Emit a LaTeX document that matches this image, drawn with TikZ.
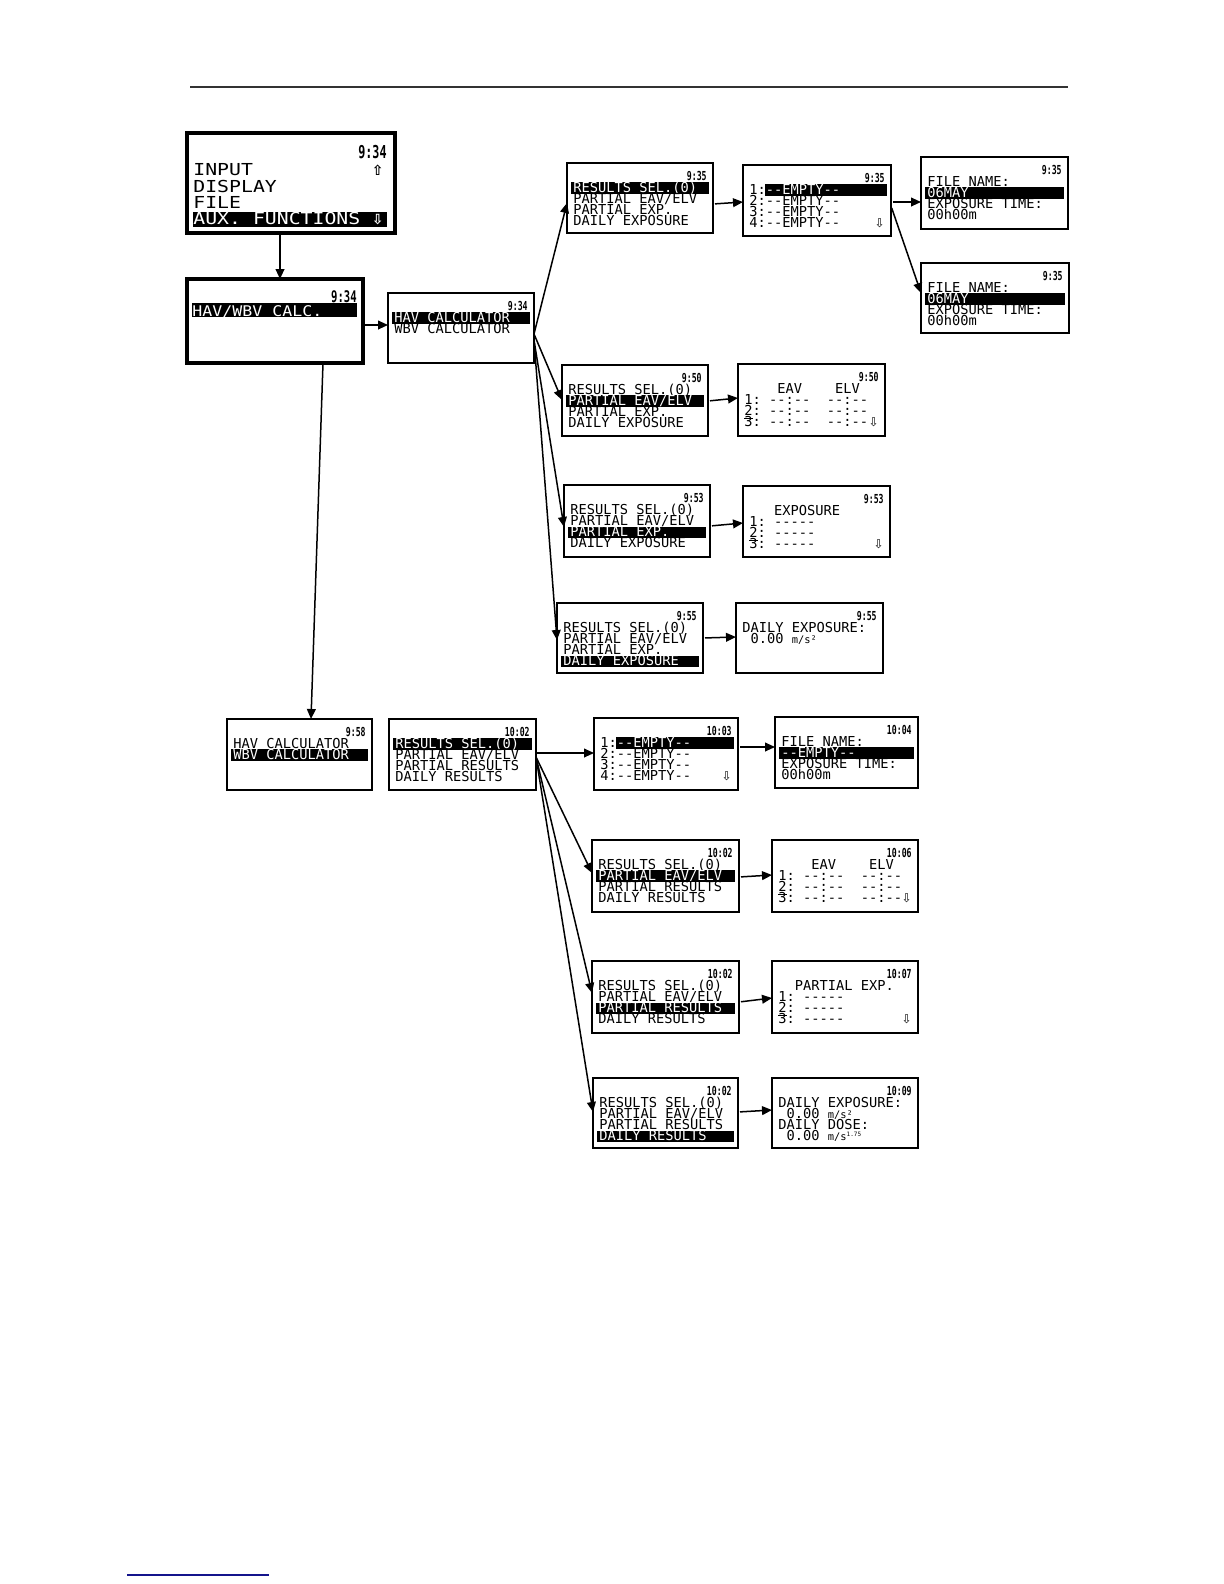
\documentclass[tikz,border=0pt]{standalone}
\usepackage{fontspec}
\usetikzlibrary{arrows.meta}
\newfontfamily\lcd[Ligatures=TeXOff]{DejaVu Sans Mono}
\newfontfamily\lcdw[Ligatures=TeXOff,FakeStretch=1.2]{DejaVu Sans Mono}
\newfontfamily\lcdm[Ligatures=TeXOff,FakeStretch=1.13]{DejaVu Sans Mono}
\newfontfamily\clkf[Ligatures=TeXOff,FakeStretch=0.66]{DejaVu Sans Mono}
\newfontfamily\symf{DejaVu Sans}
\definecolor{navyline}{RGB}{20,20,140}
\newcommand\fsm{\lcd\fontsize{6.85bp}{8bp}\selectfont}
\newcommand\fsu{\lcd\fontsize{5.2bp}{6bp}\selectfont}
\newcommand\fclk{\clkf\bfseries\fontsize{6.2bp}{7bp}\selectfont}
\tikzset{
  scrbox/.style={draw, line width=1.2bp, inner sep=0pt, outer sep=0pt, anchor=north west},
  ltxt/.style={anchor=base west, inner sep=0pt, font=\fsm},
  clk/.style={anchor=base east, inner sep=0pt, font=\fclk},
  dn/.style={anchor=base east, inner sep=0pt, font=\symf\fontsize{6bp}{7bp}\selectfont},
  arr/.style={line width=0.75bp, -{Triangle[length=5bp,width=4.4bp]}},
}
% screen box: name, x, y, w, h, time
\newcommand\mkscr[6]{%
  \node[scrbox, minimum width=#4*0.5bp, minimum height=#5*0.5bp] (#1) at (#2,#3) {};
  \node[clk] at ([shift={(-6,17)}]#1.north east) {#6};}
\newcommand\scrln[3]{\node[ltxt] at ([shift={(6,{18+11.2*#2})}]#1.north west) {#3};}
\newcommand\scrhl[3]{%
  \fill ([shift={(4,{8+11.2*#2})}]#1.north west) rectangle ([shift={(-4,{19.5+11.2*#2})}]#1.north east);
  \node[ltxt,text=white] at ([shift={(6,{18+11.2*#2})}]#1.north west) {#3};}
\newcommand\scrhlx[4]{%
  \fill ([shift={({5.5+8.25*#3},{8+11.2*#2})}]#1.north west) rectangle ([shift={(-4,{19.5+11.2*#2})}]#1.north east);
  \node[ltxt,text=white] at ([shift={({6+8.25*#3},{18+11.2*#2})}]#1.north west) {#4};}
\newcommand\scrdn[2]{\node[dn] at ([shift={(-6,{18+11.2*#2})}]#1.north east) {⇩};}
\begin{document}
\begin{tikzpicture}[x=0.5bp,y=-0.5bp]
\useasboundingbox (0,0) rectangle (1224,1584);
\path[fill=white] (0,0) rectangle (1224,1584);
% page rules
\draw[line width=0.6bp, black!80] (190,87) -- (1068,87);
\draw[line width=0.7bp, navyline] (127,1575) -- (269,1575);

% ---------- main menu ----------
\node[scrbox, line width=1.7bp, minimum width=104bp, minimum height=50bp] (b1) at (187,133) {};
\node[anchor=base east, inner sep=0pt, font=\clkf\bfseries\fontsize{8.9bp}{10bp}\selectfont] at ([shift={(-8,25)}]b1.north east) {9:34};
\node[anchor=base west, inner sep=0pt, font=\lcdw\fontsize{8.25bp}{9bp}\selectfont] at ([shift={(6,42)}]b1.north west) {INPUT};
\node[anchor=base west, inner sep=0pt, font=\lcdw\fontsize{8.25bp}{9bp}\selectfont] at ([shift={(6,59)}]b1.north west) {DISPLAY};
\node[anchor=base west, inner sep=0pt, font=\lcdw\fontsize{8.25bp}{9bp}\selectfont] at ([shift={(6,75)}]b1.north west) {FILE};
\fill ([shift={(6,79)}]b1.north west) rectangle ([shift={(-8,94)}]b1.north east);
\node[anchor=base west, inner sep=0pt, text=white, font=\lcdw\fontsize{8.25bp}{9bp}\selectfont] at ([shift={(6,91)}]b1.north west) {AUX. FUNCTIONS};
\node[anchor=base east, inner sep=0pt, font=\symf\bfseries\fontsize{7bp}{8bp}\selectfont] at ([shift={(-11,42)}]b1.north east) {⇧};
\node[anchor=base east, inner sep=0pt, text=white, font=\symf\bfseries\fontsize{7bp}{8bp}\selectfont] at ([shift={(-11,91)}]b1.north east) {⇩};

% ---------- HAV/WBV CALC ----------
\node[scrbox, line width=1.7bp, minimum width=88bp, minimum height=42bp] (b2) at (187,279) {};
\node[anchor=base east, inner sep=0pt, font=\clkf\bfseries\fontsize{8bp}{9bp}\selectfont] at ([shift={(-6,23)}]b2.north east) {9:34};
\fill ([shift={(5,24)}]b2.north west) rectangle ([shift={(-6,38)}]b2.north east);
\node[anchor=base west, inner sep=0pt, text=white, font=\lcdm\fontsize{7.35bp}{8bp}\selectfont] at ([shift={(5,37)}]b2.north west) {HAV/WBV CALC.};

% ---------- HAV / WBV calculator ----------
\mkscr{b3}{388}{293}{146}{70}{9:34}
\scrhl{b3}{1}{HAV CALCULATOR}
\scrln{b3}{2}{WBV CALCULATOR}

% ---------- HAV branch ----------
\mkscr{b4}{567}{163}{146}{70}{9:35}
\scrhl{b4}{1}{RESULTS SEL.(0)}
\scrln{b4}{2}{PARTIAL EAV/ELV}
\scrln{b4}{3}{PARTIAL EXP.}
\scrln{b4}{4}{DAILY EXPOSURE}

\mkscr{b5}{743}{165}{148}{71}{9:35}
\scrln{b5}{1}{1:}
\scrhlx{b5}{1}{2}{--EMPTY--}
\scrln{b5}{2}{2:--EMPTY--}
\scrln{b5}{3}{3:--EMPTY--}
\scrln{b5}{4}{4:--EMPTY--}
\scrdn{b5}{4}

\mkscr{b6}{921}{157}{147}{72}{9:35}
\scrln{b6}{1}{FILE NAME:}
\scrhl{b6}{2}{06MAY}
\scrln{b6}{3}{EXPOSURE TIME:}
\scrln{b6}{4}{00h00m}

\mkscr{b7}{921}{263}{148}{70}{9:35}
\scrln{b7}{1}{FILE NAME:}
\scrhl{b7}{2}{06MAY}
\scrln{b7}{3}{EXPOSURE TIME:}
\scrln{b7}{4}{00h00m}

\mkscr{b8}{562}{365}{146}{71}{9:50}
\scrln{b8}{1}{RESULTS SEL.(0)}
\scrhl{b8}{2}{PARTIAL EAV/ELV}
\scrln{b8}{3}{PARTIAL EXP.}
\scrln{b8}{4}{DAILY EXPOSURE}

\mkscr{b9}{738}{364}{147}{72}{9:50}
\scrln{b9}{1}{\ \ \ \ EAV\ \ \ \ ELV}
\scrln{b9}{2}{1:\ --:--\ \ --:--}
\scrln{b9}{3}{\underline{2}:\ --:--\ \ --:--}
\scrln{b9}{4}{3:\ --:--\ \ --:--}
\scrdn{b9}{4}

\mkscr{b10}{564}{485}{146}{72}{9:53}
\scrln{b10}{1}{RESULTS SEL.(0)}
\scrln{b10}{2}{PARTIAL EAV/ELV}
\scrhl{b10}{3}{PARTIAL EXP.}
\scrln{b10}{4}{DAILY EXPOSURE}

\mkscr{b11}{743}{486}{147}{71}{9:53}
\scrln{b11}{1}{\ \ \ EXPOSURE}
\scrln{b11}{2}{1:\ -----}
\scrln{b11}{3}{\underline{2}:\ -----}
\scrln{b11}{4}{3:\ -----}
\scrdn{b11}{4}

\mkscr{b12}{557}{603}{146}{70}{9:55}
\scrln{b12}{1}{RESULTS SEL.(0)}
\scrln{b12}{2}{PARTIAL EAV/ELV}
\scrln{b12}{3}{PARTIAL EXP.}
\scrhl{b12}{4}{DAILY EXPOSURE}

\mkscr{b13}{736}{603}{147}{70}{9:55}
\scrln{b13}{1}{DAILY EXPOSURE:}
\scrln{b13}{2}{\ 0.00\ {\fsu m/s²}}

% ---------- WBV branch ----------
\mkscr{b14}{227}{719}{145}{71}{9:58}
\scrln{b14}{1}{HAV CALCULATOR}
\scrhl{b14}{2}{WBV CALCULATOR}

\mkscr{b15}{389}{719}{147}{71}{10:02}
\scrhl{b15}{1}{RESULTS SEL.(0)}
\scrln{b15}{2}{PARTIAL EAV/ELV}
\scrln{b15}{3}{PARTIAL RESULTS}
\scrln{b15}{4}{DAILY RESULTS}

\mkscr{b16}{594}{718}{144}{72}{10:03}
\scrln{b16}{1}{1:}
\scrhlx{b16}{1}{2}{--EMPTY--}
\scrln{b16}{2}{2:--EMPTY--}
\scrln{b16}{3}{3:--EMPTY--}
\scrln{b16}{4}{4:--EMPTY--}
\scrdn{b16}{4}

\mkscr{b17}{775}{717}{143}{71}{10:04}
\scrln{b17}{1}{FILE NAME:}
\scrhl{b17}{2}{--EMPTY--}
\scrln{b17}{3}{EXPOSURE TIME:}
\scrln{b17}{4}{00h00m}

\mkscr{b18}{592}{840}{147}{72}{10:02}
\scrln{b18}{1}{RESULTS SEL.(0)}
\scrhl{b18}{2}{PARTIAL EAV/ELV}
\scrln{b18}{3}{PARTIAL RESULTS}
\scrln{b18}{4}{DAILY RESULTS}

\mkscr{b19}{772}{840}{146}{72}{10:06}
\scrln{b19}{1}{\ \ \ \ EAV\ \ \ \ ELV}
\scrln{b19}{2}{1:\ --:--\ \ --:--}
\scrln{b19}{3}{\underline{2}:\ --:--\ \ --:--}
\scrln{b19}{4}{3:\ --:--\ \ --:--}
\scrdn{b19}{4}

\mkscr{b20}{592}{961}{147}{72}{10:02}
\scrln{b20}{1}{RESULTS SEL.(0)}
\scrln{b20}{2}{PARTIAL EAV/ELV}
\scrhl{b20}{3}{PARTIAL RESULTS}
\scrln{b20}{4}{DAILY RESULTS}

\mkscr{b21}{772}{961}{146}{72}{10:07}
\scrln{b21}{1}{\ \ PARTIAL EXP.}
\scrln{b21}{2}{1:\ -----}
\scrln{b21}{3}{\underline{2}:\ -----}
\scrln{b21}{4}{3:\ -----}
\scrdn{b21}{4}

\mkscr{b22}{593}{1078}{145}{70}{10:02}
\scrln{b22}{1}{RESULTS SEL.(0)}
\scrln{b22}{2}{PARTIAL EAV/ELV}
\scrln{b22}{3}{PARTIAL RESULTS}
\scrhl{b22}{4}{DAILY RESULTS}

\mkscr{b23}{772}{1078}{146}{70}{10:09}
\scrln{b23}{1}{DAILY EXPOSURE:}
\scrln{b23}{2}{\ 0.00\ {\fsu m/s²}}
\scrln{b23}{3}{DAILY DOSE:}
\scrln{b23}{4}{\ 0.00\ {\fsu m/s\raisebox{2.2bp}{\lcd\fontsize{3bp}{3bp}\selectfont 1.75}}}

% ---------- connectors ----------
\draw[arr] (b1.south -| 280,0) -- (b2.north -| 280,0);
\draw[arr, shorten <=1bp] (b2.east |- 0,325) -- (b3.west |- 0,325);
\draw[arr] (b2.south -| 323,0) -- (b14.north -| 311,0);

\coordinate (f1) at (b3.east |- 0,334);
\coordinate (f1b) at (b3.east |- 0,340);
\draw[arr] (f1) -- (b4.west |- 0,203);
\draw[arr] (f1) -- (b8.west |- 0,400);
\draw[arr] (f1b) -- (b10.west |- 0,527);
\draw[arr] (f1b) -- (b12.west |- 0,640);

\draw[arr, shorten <=1bp] (b4.east |- 0,204) -- (b5.west |- 0,202);
\draw[arr, shorten <=1bp] (b5.east |- 0,202) -- (b6.west |- 0,202);
\draw[arr, shorten <=1bp] (b5.east |- 0,206) -- (b7.west |- 0,293);
\draw[arr, shorten <=1bp] (b8.east |- 0,401) -- (b9.west |- 0,398);
\draw[arr, shorten <=1bp] (b10.east |- 0,526) -- (b11.west |- 0,523);
\draw[arr, shorten <=1bp] (b12.east |- 0,638) -- (b13.west |- 0,637);

\coordinate (f2) at (b15.east |- 0,757);
\draw[arr] (b15.east |- 0,753) -- (b16.west |- 0,753);
\draw[arr] (f2) -- (b18.west |- 0,873);
\draw[arr] (f2) -- (b20.west |- 0,993);
\draw[arr] (f2) -- (b22.west |- 0,1112);

\draw[arr, shorten <=1bp] (b16.east |- 0,747) -- (b17.west |- 0,747);
\draw[arr, shorten <=1bp] (b18.east |- 0,877) -- (b19.west |- 0,875);
\draw[arr, shorten <=1bp] (b20.east |- 0,1002) -- (b21.west |- 0,998);
\draw[arr, shorten <=1bp] (b22.east |- 0,1112) -- (b23.west |- 0,1110);
\end{tikzpicture}
\end{document}
